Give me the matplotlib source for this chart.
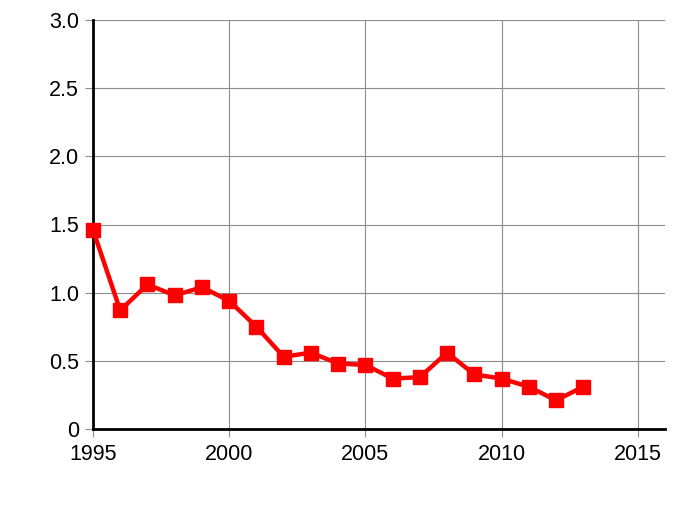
import matplotlib
matplotlib.use("Agg")
import matplotlib.pyplot as plt
from matplotlib.ticker import FuncFormatter

plt.rcParams['font.family'] = ['Liberation Sans', 'DejaVu Sans']

years = [1995, 1996, 1997, 1998, 1999, 2000, 2001, 2002, 2003, 2004,
         2005, 2006, 2007, 2008, 2009, 2010, 2011, 2012, 2013]
values = [1.46, 0.87, 1.06, 0.98, 1.04, 0.94, 0.75, 0.53, 0.56, 0.48,
          0.47, 0.37, 0.38, 0.56, 0.40, 0.37, 0.31, 0.21, 0.31]

x_ticks = [1995, 2000, 2005, 2010, 2015]
y_ticks = [0, 0.5, 1.0, 1.5, 2.0, 2.5, 3.0]

fig = plt.figure(figsize=(6.85, 5.12), dpi=100)
ax = fig.add_axes([93/685, 83/512, 572/685, 409/512])

ax.plot(years, values, color="#ff0000", linewidth=3.2, marker="s",
        markersize=10, clip_on=False, zorder=5)

ax.set_xlim(1995, 2016)
ax.set_ylim(0, 3.0)
ax.set_xticks(x_ticks)
ax.set_yticks(y_ticks)
ax.yaxis.set_major_formatter(FuncFormatter(lambda v, p: "0" if v == 0 else "%.1f" % v))

ax.grid(True, color="#8c8c8c", linewidth=0.8)
ax.set_axisbelow(True)
for s in ["top", "right"]:
    ax.spines[s].set_visible(False)
for s in ["left", "bottom"]:
    ax.spines[s].set_linewidth(2)
    ax.spines[s].set_color("black")

ax.tick_params(axis="both", labelsize=15.5, length=6, width=0.8, color="#8c8c8c")
ax.tick_params(axis="x", pad=5)
ax.tick_params(axis="y", pad=4)

fig.savefig("out.png", dpi=100)
